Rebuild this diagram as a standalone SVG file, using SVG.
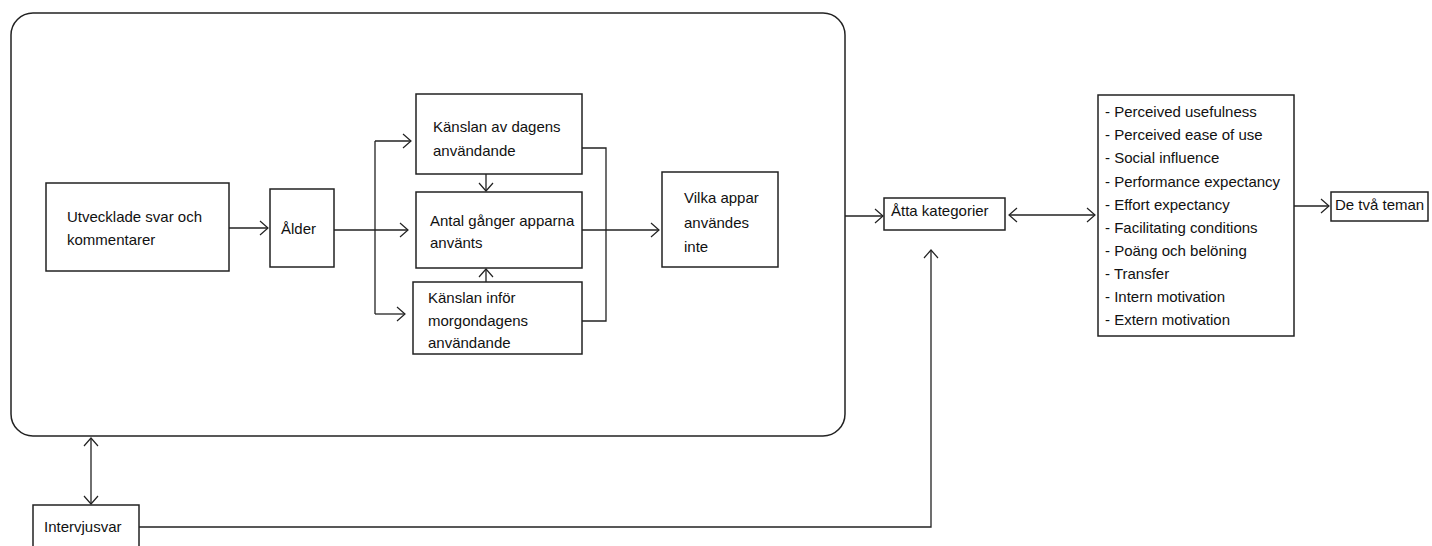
<svg xmlns="http://www.w3.org/2000/svg" width="1432" height="546" viewBox="0 0 1432 546">
<defs>
<marker id="ah" viewBox="0 0 10 16" markerWidth="10" markerHeight="16" refX="9" refY="8" orient="auto-start-reverse" markerUnits="userSpaceOnUse">
<path d="M1,1 L9,8 L1,15" fill="none" stroke="#222" stroke-width="1.2"/>
</marker>
<style>
.box{fill:#fff;stroke:#222;stroke-width:1.5}
.c{fill:none;stroke:#222;stroke-width:1.3}
text{font-family:"Liberation Sans",Arial,sans-serif;font-size:15px;fill:#111}
</style>
</defs>
<rect width="1432" height="546" fill="#fff"/>
<g id="container"><rect x="11" y="13" width="834" height="423" rx="22" ry="22" class="box"/></g>
<g id="utvecklade"><rect x="46" y="183" width="183" height="88" class="box"/><text x="67" y="222">Utvecklade svar och</text><text x="67" y="245">kommentarer</text></g>
<g id="alder"><rect x="270" y="189" width="64" height="78" class="box"/><text x="281" y="234" font-size="16.5">Ålder</text></g>
<g id="kanslan-dagens"><rect x="416" y="94" width="166" height="80" class="box"/><text x="433" y="132" font-size="16">Känslan av dagens</text><text x="433" y="156" font-size="16">användande</text></g>
<g id="antal"><rect x="416" y="192" width="166" height="76" class="box"/><text x="430" y="226">Antal gånger apparna</text><text x="430" y="248">använts</text></g>
<g id="kanslan-morgon"><rect x="413" y="282" width="169" height="72" class="box"/><text x="428" y="303">Känslan inför</text><text x="428" y="326">morgondagens</text><text x="428" y="348">användande</text></g>
<g id="vilka"><rect x="662" y="172" width="116" height="95" class="box"/><text x="684" y="203" font-size="16">Vilka appar</text><text x="684" y="228" font-size="16">användes</text><text x="684" y="252" font-size="16">inte</text></g>
<g id="atta"><rect x="884" y="198" width="121" height="32" class="box"/><text x="891" y="216" font-size="14.5">Åtta kategorier</text></g>
<g id="lista"><rect x="1098" y="95" width="196" height="241" class="box"/>
<text x="1105" y="117">- Perceived usefulness</text>
<text x="1105" y="140">- Perceived ease of use</text>
<text x="1105" y="163">- Social influence</text>
<text x="1105" y="187">- Performance expectancy</text>
<text x="1105" y="210">- Effort expectancy</text>
<text x="1105" y="233">- Facilitating conditions</text>
<text x="1105" y="256">- Poäng och belöning</text>
<text x="1105" y="279">- Transfer</text>
<text x="1105" y="302">- Intern motivation</text>
<text x="1105" y="325">- Extern motivation</text>
</g>
<g id="teman"><rect x="1331" y="192" width="97" height="29" class="box"/><text x="1335" y="210">De två teman</text></g>
<g id="intervjusvar"><rect x="33" y="505" width="106" height="50" class="box"/><text x="44" y="532" font-size="16">Intervjusvar</text></g>
<g id="connectors">
<path class="c" d="M229,228 H268" marker-end="url(#ah)"/>
<path class="c" d="M334,230 H375"/>
<path class="c" d="M375,141 V314"/>
<path class="c" d="M375,141 H411" marker-end="url(#ah)"/>
<path class="c" d="M375,230 H408" marker-end="url(#ah)"/>
<path class="c" d="M375,314 H405" marker-end="url(#ah)"/>
<path class="c" d="M486,174 V191" marker-end="url(#ah)"/>
<path class="c" d="M486,282 V269" marker-end="url(#ah)"/>
<path class="c" d="M582,148 H606 V321 H582"/>
<path class="c" d="M582,230 H659" marker-end="url(#ah)"/>
<path class="c" d="M845,216 H883" marker-end="url(#ah)"/>
<path class="c" d="M1009,215 H1095" marker-start="url(#ah)" marker-end="url(#ah)"/>
<path class="c" d="M1294,206 H1329" marker-end="url(#ah)"/>
<path class="c" d="M91,438 V504" marker-start="url(#ah)" marker-end="url(#ah)"/>
<path class="c" d="M139,527 H931 V250" marker-end="url(#ah)"/>
</g>
</svg>
